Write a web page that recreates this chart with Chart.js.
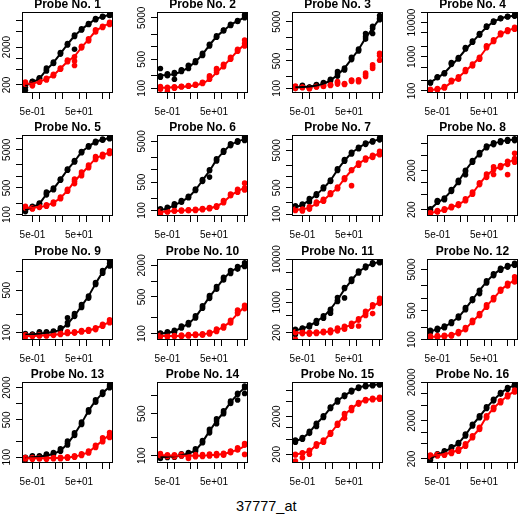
<!DOCTYPE html>
<html>
<head>
<meta charset="utf-8">
<script src="https://cdn.jsdelivr.net/npm/chart.js@4.4.1/dist/chart.umd.min.js"></script>
<style>
  html, body { margin: 0; padding: 0; background: #fff; overflow: hidden; }
  #page { position: relative; width: 522px; height: 514px; overflow: hidden; }
  #page canvas { position: absolute; }
  #caption { position: absolute; left: 236px; top: 499px; font: 14.5px "Liberation Sans", Arial, sans-serif; line-height: 1; color: #000; white-space: nowrap; }
</style>
</head>
<body>
<div id="page"><div id="caption">37777_at</div></div>
<script>
// spike-in concentrations (x), shared by every probe
const conc = [0.25, 0.5, 1, 2, 4, 8, 16, 32, 64, 128, 256, 512, 1024];
const xMin = 0.179;
const xMax = 1428;
const xTicks = [0.5, 1, 5, 10, 50, 100, 500, 1000];
const xLabelValues = [0.5, 50];
const xLabelText = ["5e-01", "5e+01"];

const probeNames = Array.from({ length: 16 }, (_, i) => `Probe No. ${i + 1}`);

// y axis per probe
const yMin = [123, 77, 76, 87, 92, 73, 88.5, 138, 75.5, 75.5, 135, 98, 78, 75.5, 117.5, 157];
const yMax = [16700, 6900, 8830, 20400, 12200, 7200, 12800, 16400, 1630, 2650, 10100, 8950, 2550, 1690, 16600, 20500];
const yTicks = [
  [200, 500, 1000, 2000, 5000, 10000],
  [100, 200, 500, 1000, 2000, 5000],
  [100, 200, 500, 1000, 2000, 5000],
  [100, 200, 500, 1000, 2000, 5000, 10000, 20000],
  [100, 200, 500, 1000, 2000, 5000, 10000],
  [100, 200, 500, 1000, 2000, 5000],
  [100, 200, 500, 1000, 2000, 5000, 10000],
  [200, 500, 1000, 2000, 5000, 10000],
  [100, 200, 500, 1000],
  [100, 200, 500, 1000, 2000],
  [200, 500, 1000, 2000, 5000, 10000],
  [100, 200, 500, 1000, 2000, 5000],
  [100, 200, 500, 1000, 2000],
  [100, 200, 500, 1000],
  [200, 500, 1000, 2000, 5000, 10000],
  [200, 500, 1000, 2000, 5000, 10000, 20000]
];
const yLabels = [
  [200, 2000], [100, 500, 5000], [100, 500, 5000], [100, 1000, 10000],
  [100, 500, 5000], [100, 500, 5000], [100, 500, 5000], [200, 2000],
  [100, 500], [100, 500, 2000], [200, 1000, 10000], [100, 500, 5000],
  [100, 500, 2000], [100, 500], [200, 2000], [200, 2000, 20000]
];

// fitted curves (PM black, MM red), one value per concentration
const blackFit = [
  [190, 235, 300, 500, 780, 1350, 2350, 3900, 5800, 8000, 10800, 12600, 13900],
  [205, 210, 220, 255, 320, 440, 660, 1100, 1750, 2450, 3350, 4200, 5100],
  [106, 108, 111, 118, 132, 160, 222, 330, 560, 980, 1900, 3400, 6000],
  [180, 240, 340, 560, 920, 1600, 2700, 4500, 7300, 10500, 13200, 15000, 16000],
  [130, 158, 195, 340, 480, 830, 1500, 2500, 4300, 6100, 8000, 9200, 10200],
  [104, 112, 135, 165, 213, 320, 550, 950, 1750, 2800, 4100, 5000, 5700],
  [150, 178, 235, 330, 490, 790, 1500, 2650, 4200, 5800, 7500, 8700, 9900],
  [205, 300, 400, 620, 1060, 2000, 3450, 5450, 8000, 9800, 11100, 12000, 12500],
  [93, 94, 96, 99, 103, 112, 140, 190, 275, 400, 640, 980, 1380],
  [100, 104, 111, 132, 155, 208, 320, 500, 745, 1100, 1500, 1800, 2050],
  [225, 248, 285, 365, 470, 700, 1150, 2000, 3250, 5000, 6600, 7900, 8650],
  [158, 178, 205, 260, 355, 560, 930, 1550, 2500, 3700, 5000, 5950, 6650],
  [97, 100, 103, 108, 116, 135, 180, 270, 435, 735, 1130, 1570, 2090],
  [94, 96, 98, 102, 109, 124, 170, 258, 378, 527, 774, 1050, 1360],
  [440, 540, 770, 1300, 2000, 3400, 5200, 7200, 9500, 11700, 13000, 13800, 14400],
  [200, 260, 310, 395, 515, 850, 1540, 2540, 4360, 6900, 10300, 13900, 17000]
];
const redFit = [
  [215, 220, 245, 290, 365, 545, 830, 1150, 1950, 3150, 5200, 6850, 8400],
  [103, 104, 106, 108, 112, 118, 132, 165, 240, 350, 520, 800, 1150],
  null,
  [107, 112, 128, 180, 250, 380, 590, 950, 1800, 2900, 4500, 5800, 6800],
  [150, 152, 158, 172, 205, 275, 430, 740, 1180, 1850, 2900, 3600, 4300],
  [92, 94, 97, 99, 101, 103, 107, 114, 127, 160, 230, 300, 360],
  [128, 134, 148, 190, 235, 345, 500, 880, 1450, 2150, 2900, 3450, 4200],
  [165, 180, 200, 232, 270, 360, 530, 920, 1480, 2100, 2580, 3150, 3950],
  [88, 88, 89, 90, 92, 94, 97, 100, 104, 109, 117, 132, 150],
  [90, 90, 90, 91, 93, 95, 97, 102, 115, 135, 172, 240, 325],
  [200, 198, 198, 200, 205, 215, 235, 265, 310, 400, 560, 790, 1050],
  [116, 119, 123, 130, 148, 185, 275, 405, 650, 985, 1560, 2150, 2730],
  [96, 96, 96, 96, 97, 97, 99, 103, 112, 125, 160, 205, 265],
  [102, 101, 100, 100, 100, 100, 100, 102, 104, 107, 115, 126, 145],
  [200, 215, 245, 350, 450, 720, 1250, 2200, 3300, 4500, 5500, 5850, 6100],
  [245, 255, 265, 298, 343, 465, 765, 1260, 2540, 4190, 6260, 8980, 11880]
];

// replicate measurements, three per concentration
const blackPts = [
  [[215,175,145],[235,250,245],[290,310,300],[560,470,500],[760,800,740],[1300,1420,1380],[2250,2450,2350],[3800,4100,1740],[5600,6000,5800],[7800,8300,8000],[10500,11200,10800],[12300,12900,12500],[13500,14300,13800]],
  [[300,200,185],[215,200,225],[240,165,220],[270,255,280],[340,300,360],[430,460,420],[640,700,620],[1050,1150,1100],[1700,1850,1750],[2400,2550,2500],[3300,3500,3250],[4100,4300,4200],[5000,5500,5900]],
  [[100,110,106],[120,110,115],[106,104,108],[122,118,125],[134,128,140],[163,170,155],[232,266,205],[311,295,330],[582,540,620],[950,900,1000],[2080,2500,1800],[3400,2500,3800],[6100,7200,5600]],
  [[175,170,180],[251,245,260],[329,320,340],[644,600,680],[902,860,950],[1770,1700,1850],[2770,2650,2900],[4540,4300,4800],[7600,7300,7900],[10640,10300,11000],[13300,13000,13600],[14900,14500,15300],[15960,15500,16500]],
  [[130,120,138],[159,152,165],[194,185,200],[355,390,330],[470,500,450],[825,800,860],[1507,1450,1560],[2490,2400,2600],[4370,4200,4500],[6150,5900,6400],[7990,7700,8300],[9190,8900,9500],[10160,9800,10500]],
  [[104,95,110],[114,100,120],[138,128,145],[167,160,175],[213,205,222],[323,310,335],[548,520,580],[1000,950,662],[1770,1650,1880],[2840,2700,3000],[4140,3950,4350],[5010,4800,5200],[5720,5300,6400]],
  [[154,140,165],[177,170,185],[241,210,260],[328,315,345],[494,470,520],[774,740,810],[1520,1450,1600],[2700,2550,2850],[4230,4000,4450],[5760,5500,6000],[7510,7200,7800],[8670,8300,9000],[10000,9500,10800]],
  [[200,190,210],[327,310,345],[383,360,400],[626,590,660],[1065,1000,1130],[2040,1900,1570],[3470,3300,3650],[5460,5100,5800],[8090,7700,8500],[9850,9300,10300],[11090,10500,11600],[12000,11400,12600],[12470,11800,13200]],
  [[93,90,96],[93,95,91],[100,103,97],[100,98,103],[103,100,106],[116,112,120],[146,175,135],[193,185,205],[275,260,290],[387,370,400],[642,620,670],[1000,950,1050],[1370,1250,1550]],
  [[100,96,103],[104,100,108],[111,106,115],[134,128,140],[155,148,162],[208,198,218],[323,305,340],[501,470,530],[744,700,790],[1120,1050,1180],[1500,1400,1600],[1790,1700,1900],[2070,1900,2250]],
  [[226,180,240],[248,240,255],[285,270,300],[366,330,380],[461,430,490],[694,640,560],[1120,1300,1050],[2090,1270,2200],[3250,3050,3450],[5070,4800,5300],[6620,6300,6900],[7910,7600,8200],[8650,8300,9100]],
  [[159,150,168],[178,170,188],[203,195,212],[258,245,270],[354,335,372],[563,530,600],[930,880,980],[1570,1480,1300],[2490,2350,2650],[3750,3550,3950],[5050,4800,5300],[5970,5700,6200],[6670,6300,7000]],
  [[96,90,100],[103,100,106],[103,99,106],[111,106,115],[117,112,122],[137,130,144],[183,200,170],[269,255,285],[432,410,455],[735,700,770],[1130,1070,1190],[1570,1500,1650],[2090,2000,2250]],
  [[93,90,97],[96,93,99],[96,94,100],[103,99,107],[109,105,113],[124,118,130],[171,165,178],[258,240,275],[378,340,410],[527,500,560],[774,740,810],[1050,1100,847],[1360,1450,1090]],
  [[452,420,480],[531,500,560],[767,720,810],[1330,1250,1100],[2000,1900,2100],[3460,3300,3600],[5200,4900,5500],[7190,6800,7500],[9570,9100,10000],[11720,11200,12200],[13000,12500,13500],[13800,13300,14300],[14390,13900,14900]],
  [[200,185,210],[265,250,275],[311,295,325],[395,375,415],[513,490,540],[845,800,890],[1540,1460,1620],[2540,2400,2680],[4360,4150,4600],[6920,6600,7250],[10330,9900,10800],[13940,13300,14600],[17030,16200,17800]]
];
const redPts = [
  [[240,225,210],[200,215,190],[245,235,255],[290,270,300],[360,380,350],[540,560,520],[850,900,820],[1100,850,650],[2000,2100,1900],[3100,3300,2900],[5400,5000,5700],[6800,7000,6500],[8400,9000,7800]],
  [[110,100,95],[105,83,100],[105,108,100],[110,108,112],[112,116,114],[120,118,125],[135,140,130],[185,200,165],[270,300,240],[360,380,330],[520,560,500],[830,780,870],[1200,1450,1050]],
  [[115,110,100],[106,104,108],[100,98,102],[110,108,112],[115,112,118],[122,118,125],[148,128,140],[129,126,132],[157,150,162],[157,148,165],[225,200,245],[357,320,400],[682,780,520]],
  [[107,112,103],[112,108,118],[128,122,135],[196,185,205],[235,220,260],[393,370,420],[575,540,610],[902,850,960],[1980,1850,2100],[2960,2800,3150],[4630,4400,4900],[5810,5500,6100],[6800,6400,7300]],
  [[159,165,150],[141,150,145],[159,155,162],[172,165,180],[202,190,215],[273,260,290],[433,410,460],[745,650,850],[1180,1050,1300],[1840,1700,2000],[3050,2800,3300],[3500,3300,3800],[4370,4000,4700]],
  [[89,82,95],[94,96,92],[100,96,98],[100,97,102],[102,99,104],[104,100,106],[108,104,112],[114,110,118],[125,120,130],[166,155,175],[243,230,255],[310,280,330],[355,320,470]],
  [[130,125,135],[136,130,120],[145,135,155],[196,185,210],[231,220,245],[349,330,370],[494,470,520],[875,830,920],[1520,1450,570],[2150,2000,2300],[2930,2750,3100],[3450,3200,3700],[4230,3800,4700]],
  [[164,170,158],[181,175,190],[200,195,210],[234,225,245],[269,255,285],[361,340,380],[535,500,570],[929,880,980],[1490,1650,1350],[2120,2500,1600],[2580,2700,2400],[3500,2900,1580],[5600,4100,3300]],
  [[88,85,92],[88,86,90],[90,88,92],[90,88,93],[93,90,95],[96,93,98],[100,97,103],[100,98,103],[105,102,108],[109,105,112],[116,112,120],[132,127,137],[154,145,162]],
  [[90,87,93],[90,86,92],[90,88,92],[91,88,94],[93,90,96],[95,92,98],[96,93,99],[102,98,106],[116,110,122],[134,128,140],[170,160,180],[280,241,255],[345,323,300]],
  [[200,140,210],[195,190,205],[195,200,185],[198,205,192],[205,215,200],[215,230,200],[235,255,220],[260,280,240],[300,330,280],[390,420,285],[560,620,500],[800,880,551],[1050,1250,950]],
  [[116,108,122],[120,115,126],[123,118,128],[127,122,132],[148,140,156],[185,175,196],[278,260,295],[403,380,430],[653,610,700],[984,920,1050],[1570,1480,1660],[2150,2000,2300],[2730,2500,3300]],
  [[96,93,99],[96,92,99],[96,93,99],[96,92,99],[97,94,100],[97,94,100],[99,96,102],[103,100,106],[112,108,116],[125,120,130],[160,152,168],[230,205,195],[290,260,235]],
  [[105,100,108],[100,97,103],[100,96,103],[103,99,105],[96,90,100],[100,96,104],[100,97,104],[103,99,106],[103,100,108],[106,102,110],[117,112,120],[129,124,135],[150,160,105]],
  [[192,133,200],[213,163,220],[245,200,255],[354,330,380],[452,420,480],[721,680,760],[1250,1180,1320],[2210,1800,2400],[3320,2900,3500],[4510,4300,4700],[5520,5300,5700],[5870,5600,6100],[6110,5800,6500]],
  [[244,230,255],[254,240,265],[265,250,278],[298,280,315],[343,320,365],[463,430,495],[765,720,810],[1260,1180,1340],[2540,2400,2700],[4190,3950,4450],[6260,5900,6600],[8980,8500,9500],[11880,11200,12600]]
];

const COL_STEP = 135;
const ROW_TOPS = [-4, 119, 243, 366];
const CANVAS_W = 117;
const CANVAS_H = 123;
const FONT = "Liberation Sans";

Chart.defaults.font.family = FONT;

const frame = {
  id: "frame",
  afterDatasetsDraw(chart) {
    const { ctx, chartArea: a } = chart;
    ctx.save();
    ctx.strokeStyle = "#000";
    ctx.lineWidth = 1;
    ctx.strokeRect(a.left + 0.5, a.top + 0.5, a.right - a.left - 1, a.bottom - a.top - 1);
    ctx.restore();
  }
};

function fitPoints(values) {
  return values.map((v, i) => ({ x: conc[i], y: v }));
}

function repPoints(reps) {
  return reps.flatMap((triple, i) => triple.map((v) => ({ x: conc[i], y: v })));
}

function lineSet(values, color) {
  return { data: fitPoints(values), showLine: true, borderColor: color, borderWidth: 2, pointRadius: 0, cubicInterpolationMode: "monotone", fill: false };
}

function pointSet(reps, color) {
  return { data: repPoints(reps), showLine: false, pointRadius: 2.8, pointBackgroundColor: color, pointBorderWidth: 0, pointBorderColor: color };
}

const tickGrid = { drawOnChartArea: false, drawTicks: true, tickLength: 6, color: "#000", lineWidth: 1 };

function drawProbe(p) {
  const canvas = document.createElement("canvas");
  canvas.width = CANVAS_W;
  canvas.height = CANVAS_H;
  canvas.style.left = `${(p % 4) * COL_STEP}px`;
  canvas.style.top = `${ROW_TOPS[Math.floor(p / 4)]}px`;
  document.querySelector("#page").appendChild(canvas);

  const datasets = [];
  if (redFit[p]) datasets.push(lineSet(redFit[p], "#ff0000"));
  datasets.push(lineSet(blackFit[p], "#000000"));
  datasets.push(pointSet(redPts[p], "#ff0000"));
  datasets.push(pointSet(blackPts[p], "#000000"));

  const widest = Math.max(...yLabels[p].map((v) => String(v).length)) * 5.56;

  new Chart(canvas, {
    type: "scatter",
    data: { datasets },
    options: {
      responsive: false,
      animation: false,
      devicePixelRatio: 1,
      events: [],
      layout: { padding: 0 },
      plugins: {
        legend: { display: false },
        tooltip: { enabled: false },
        title: {
          display: true,
          fullSize: false,
          text: probeNames[p],
          color: "#000",
          font: { family: FONT, size: 12, weight: "bold", lineHeight: 1.2 },
          padding: { top: 1, bottom: 0.6 }
        }
      },
      scales: {
        x: {
          type: "logarithmic",
          min: xMin,
          max: xMax,
          afterBuildTicks: (s) => { s.ticks = xTicks.map((v) => ({ value: v })); },
          afterFit: (s) => { s.height = 26; s.paddingLeft = 0; s.paddingRight = 0; },
          border: { display: false },
          grid: tickGrid,
          ticks: {
            autoSkip: false,
            maxRotation: 0,
            minRotation: 0,
            padding: 7,
            color: "#000",
            font: { family: FONT, size: 10 },
            callback: (v) => {
              const k = xLabelValues.indexOf(v);
              return k >= 0 ? xLabelText[k] : "";
            }
          }
        },
        y: {
          type: "logarithmic",
          min: yMin[p],
          max: yMax[p],
          afterBuildTicks: (s) => { s.ticks = yTicks[p].map((v) => ({ value: v })); },
          afterFit: (s) => { s.width = 22; s.paddingTop = 0; s.paddingBottom = 0; },
          border: { display: false },
          grid: tickGrid,
          ticks: {
            autoSkip: false,
            minRotation: 90,
            maxRotation: 90,
            crossAlign: "center",
            padding: 9 - widest / 2,
            color: "#000",
            font: { family: FONT, size: 10 },
            callback: (v) => (yLabels[p].includes(v) ? String(v) : "")
          }
        }
      }
    },
    plugins: [frame]
  });
}

for (let p = 0; p < 16; p++) drawProbe(p);
</script>
</body>
</html>
